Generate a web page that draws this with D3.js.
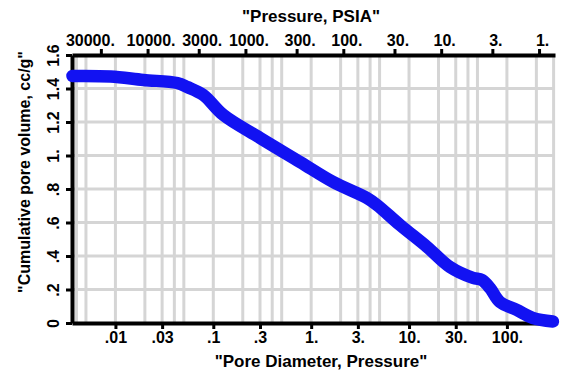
<!DOCTYPE html>
<html>
<head>
<meta charset="utf-8">
<script src="https://cdn.jsdelivr.net/npm/d3@7"></script>
<style>
  body { margin: 0; background: #fff; }
  svg text { font-family: "Liberation Sans", Arial, sans-serif; font-weight: bold; fill: #000; }
</style>
</head>
<body>
<div id="chart"></div>
<script>
// pore diameter (microns) vs cumulative intrusion volume (cc/g)
const poreDiameter = [0.00364, 0.0089, 0.0193, 0.0429, 0.0543, 0.0791, 0.1265, 0.302, 0.772, 1.68, 3.73, 4.72, 8.09, 15.3, 26.2, 45.0, 55.6, 67.1, 84.9, 126, 184, 295];
const cumVolume = [1.475, 1.472, 1.451, 1.433, 1.409, 1.361, 1.242, 1.104, 0.961, 0.842, 0.746, 0.704, 0.585, 0.454, 0.334, 0.269, 0.257, 0.209, 0.125, 0.078, 0.030, 0.009];

const diameterTicks = [0.01, 0.03, 0.1, 0.3, 1, 3, 10, 30, 100];
const diameterLabels = [".01", ".03", ".1", ".3", "1.", "3.", "10.", "30.", "100."];
const pressureTicks = [30000, 10000, 3000, 1000, 300, 100, 30, 10, 3, 1];
const pressureLabels = ["30000.", "10000.", "3000.", "1000.", "300.", "100.", "30.", "10.", "3.", "1."];
const volumeTicks = [0, 0.2, 0.4, 0.6, 0.8, 1, 1.2, 1.4, 1.6];
const volumeLabels = ["0", ".2", ".4", ".6", ".8", "1.", "1.2", "1.4", "1.6"];

const washburn = 213; // D(um) = 213 / P(psia)
const width = 561;
const height = 374;
const margin = { top: 55, right: 6, bottom: 51, left: 72 };

const xDomain = [0.0036, 310];

const x = d3.scaleLog()
  .domain(xDomain)
  .range([margin.left, width - margin.right]);

const xTop = d3.scaleLog()
  .domain([washburn / xDomain[0], washburn / xDomain[1]])
  .range([margin.left, width - margin.right]);

const y = d3.scaleLinear()
  .domain([0, 1.6])
  .range([height - margin.bottom, margin.top]);

const svg = d3.select("#chart")
  .append("svg")
  .attr("width", width)
  .attr("height", height);

// grid: 1..5 in each decade, plus every .2 of volume
const gridVals = [];
for (let e = -3; e <= 2; e++) {
  [1, 2, 3, 4, 5].forEach(m => {
    const v = m * Math.pow(10, e);
    if (v > xDomain[0] && v < xDomain[1]) gridVals.push(v);
  });
}

const grid = svg.append("g")
  .attr("stroke", "#d5d5d5")
  .attr("stroke-width", 3);

grid.selectAll("line.v")
  .data(gridVals)
  .enter()
  .append("line")
  .attr("class", "v")
  .attr("x1", d => x(d))
  .attr("x2", d => x(d))
  .attr("y1", y(1.6))
  .attr("y2", y(0));

grid.selectAll("line.h")
  .data(volumeTicks.slice(1, -1))
  .enter()
  .append("line")
  .attr("class", "h")
  .attr("x1", x.range()[0])
  .attr("x2", x.range()[1])
  .attr("y1", d => y(d))
  .attr("y2", d => y(d));

const styleAxis = g => {
  g.select(".domain").attr("stroke-width", 4);
  g.selectAll(".tick line").attr("stroke-width", 3);
  g.selectAll(".tick text").style("font-size", "16px");
};

const xAxis = d3.axisBottom(x)
  .tickValues(diameterTicks)
  .tickFormat((d, i) => diameterLabels[i])
  .tickSize(6)
  .tickSizeOuter(0);

svg.append("g")
  .attr("transform", `translate(0, ${height - margin.bottom})`)
  .call(xAxis)
  .call(styleAxis);

const topAxis = d3.axisTop(xTop)
  .tickValues(pressureTicks)
  .tickFormat((d, i) => pressureLabels[i])
  .tickSize(6)
  .tickSizeOuter(0);

svg.append("g")
  .attr("transform", `translate(0, ${margin.top})`)
  .call(topAxis)
  .call(styleAxis)
  .selectAll(".tick text")
  .attr("dx", (d, i) => i === 0 ? -11 : 3);

const yAxis = d3.axisLeft(y)
  .tickValues(volumeTicks)
  .tickFormat((d, i) => volumeLabels[i])
  .tickSize(6)
  .tickSizeOuter(0);

svg.append("g")
  .attr("transform", `translate(${margin.left}, 0)`)
  .call(yAxis)
  .call(styleAxis)
  .selectAll(".tick text")
  .attr("transform", "rotate(-90)")
  .attr("x", 0)
  .attr("y", -13)
  .attr("dy", 0)
  .attr("text-anchor", "middle");

// titles
svg.append("text")
  .text("\"Pressure, PSIA\"")
  .attr("x", 311)
  .attr("y", 22)
  .attr("text-anchor", "middle")
  .style("font-size", "17px");

svg.append("text")
  .text("\"Pore Diameter, Pressure\"")
  .attr("x", 321)
  .attr("y", 367)
  .attr("text-anchor", "middle")
  .style("font-size", "17px");

svg.append("text")
  .text("\"Cumulative pore volume, cc/g\"")
  .attr("transform", `translate(30, 172) rotate(-90)`)
  .attr("text-anchor", "middle")
  .style("font-size", "16px");

// curve
const line = d3.line()
  .x(d => x(d[0]))
  .y(d => y(d[1]))
  .curve(d3.curveCatmullRom.alpha(0.5));

svg.append("path")
  .datum(d3.zip(poreDiameter, cumVolume))
  .attr("d", line)
  .attr("fill", "none")
  .attr("stroke", "#1212f2")
  .attr("stroke-width", 12.5)
  .attr("stroke-linecap", "round")
  .attr("stroke-linejoin", "round");
</script>
</body>
</html>
